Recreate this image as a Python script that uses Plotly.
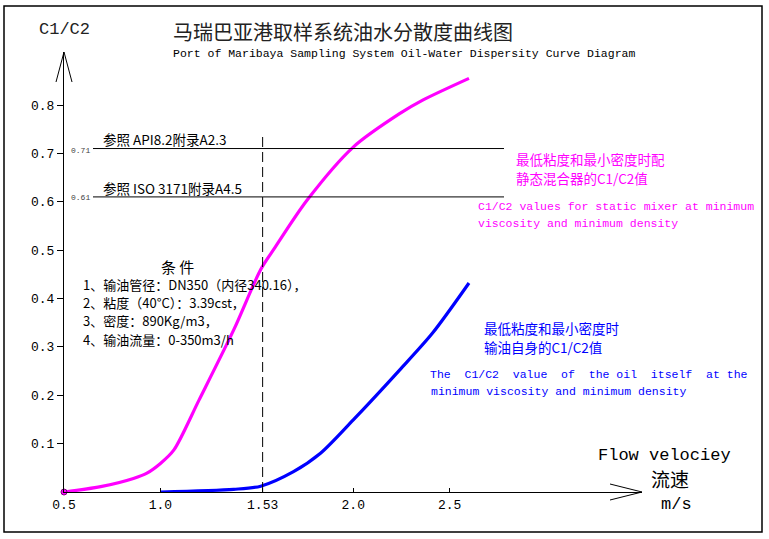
import plotly.graph_objects as go

# ---- data ----
mixer_v = [0.5, 0.69, 0.86, 0.93, 1.0, 1.07, 1.2, 1.38, 1.52, 1.59, 1.76, 2.0, 2.24, 2.36, 2.6]
mixer_c = [0.0, 0.011, 0.028, 0.039, 0.059, 0.087, 0.19, 0.335, 0.46, 0.503, 0.603, 0.713, 0.782, 0.81, 0.855]

oil_v = [1.0, 1.38, 1.52, 1.69, 1.83, 2.0, 2.24, 2.41, 2.6]
oil_c = [0.0, 0.0055, 0.012, 0.042, 0.08, 0.149, 0.252, 0.328, 0.432]

x_ticks = [0.5, 1.0, 1.53, 2.0, 2.5]
x_tick_text = ["0.5", "1.0", "1.53", "2.0", "2.5"]
y_ticks = [0.1, 0.2, 0.3, 0.4, 0.5, 0.6, 0.7, 0.8]
y_tick_text = ["0.1", "0.2", "0.3", "0.4", "0.5", "0.6", "0.7", "0.8"]

ref_velocity = 1.53
ref_levels = [0.71, 0.61]
ref_level_text = ["0.71", "0.61"]
ref_labels = ["参照 API8.2附录A2.3", "参照 ISO 3171附录A4.5"]

conditions = [
    "1、输油管径：DN350（内径340.16），",
    "2、粘度（40°C）：3.39cst，",
    "3、密度：890Kg/m3，",
    "4、输油流量：0-350m3/h",
]

# ---- page geometry (pixels) ----
W, H = 769, 539
L, R, T, B = 64, 127, 52, 47
PW, PH = W - L - R, H - T - B

MONO = "Liberation Mono, Noto Sans CJK SC"
CJK = "Noto Sans CJK SC, Liberation Mono"


def px(x, y):
    # pixel position -> paper coordinates
    return (x - L) / PW, (H - B - y) / PH


fig = go.Figure()

fig.add_trace(go.Scatter(
    x=mixer_v, y=mixer_c, mode="lines",
    line=dict(color="#FF00FF", width=3.2, shape="spline", smoothing=0.8),
    hoverinfo="skip", showlegend=False))
fig.add_trace(go.Scatter(
    x=mixer_v[:1], y=mixer_c[:1], mode="markers",
    marker=dict(color="#FF00FF", size=6, line=dict(color="#800080", width=1)),
    hoverinfo="skip", showlegend=False, cliponaxis=False))
fig.add_trace(go.Scatter(
    x=oil_v, y=oil_c, mode="lines",
    line=dict(color="#0000FF", width=3.2, shape="spline", smoothing=0.8),
    hoverinfo="skip", showlegend=False))

shapes = []
# outer border
bx0, by0 = px(4, 6)
bx1, by1 = px(762, 532)
shapes.append(dict(type="rect", xref="paper", yref="paper", x0=bx0, y0=by0, x1=bx1, y1=by1,
                   line=dict(color="black", width=1.5)))

# reference lines
lx0, _ = px(93, 0)
lx1, _ = px(504, 0)
for lv in ref_levels:
    shapes.append(dict(type="line", xref="paper", yref="y", x0=lx0, x1=lx1, y0=lv, y1=lv,
                       line=dict(color="black", width=1)))

_, dy1 = px(0, 133)
shapes.append(dict(type="line", xref="x", yref="paper", x0=ref_velocity, x1=ref_velocity,
                   y0=0, y1=dy1, line=dict(color="black", width=1, dash="10px,5px")))

# axis arrowheads (open V)
def vpath(pts):
    p = [px(*q) for q in pts]
    return "M {} {} L {} {} L {} {}".format(p[0][0], p[0][1], p[1][0], p[1][1], p[2][0], p[2][1])

shapes.append(dict(type="path", xref="paper", yref="paper",
                   path=vpath([(56, 82), (64, 52), (72, 82)]), line=dict(color="black", width=1)))
shapes.append(dict(type="path", xref="paper", yref="paper",
                   path=vpath([(610, 484), (642, 492), (610, 500)]), line=dict(color="black", width=1)))

annotations = []


def label(text, x, y, size, color="black", family=MONO):
    ax, ay = px(x, y)
    annotations.append(dict(text=text, x=ax, y=ay, xref="paper", yref="paper",
                            xanchor="left", yanchor="middle", showarrow=False,
                            font=dict(size=size, color=color, family=family)))


label("C1/C2", 37, 30, 17, "#222222")
label("马瑞巴亚港取样系统油水分散度曲线图", 171, 31, 20, "#222222", CJK)
label("Port of Maribaya Sampling System Oil-Water Dispersity Curve Diagram", 171, 53, 11.5)

for txt, ly in zip(ref_labels, [139, 188]):
    label(txt, 101, ly, 13.5, "black", CJK)
for txt, ly in zip(ref_level_text, [150, 197]):
    label(txt, 69, ly, 8, "#444444")

label("最低粘度和最小密度时配", 514, 159, 13.5, "#FF00FF", CJK)
label("静态混合器的C1/C2值", 514, 178, 13.5, "#FF00FF", CJK)
label("C1/C2 values for static mixer at minimum", 476, 206, 11.5, "#FF00FF")
label("viscosity and minimum density", 476, 223, 11.5, "#FF00FF")

label("最低粘度和最小密度时", 482, 328, 13.5, "#0000FF", CJK)
label("输油自身的C1/C2值", 482, 347, 13.5, "#0000FF", CJK)
s1, s2 = "\u00a0", "\u00a0\u00a0"
label("The" + s2 + "C1/C2" + s2 + "value" + s2 + "of" + s2 + "the" + s1 + "oil" + s2
      + "itself" + s2 + "at" + s1 + "the", 428, 374, 11.5, "#0000FF")
label("minimum viscosity and minimum density", 429, 391, 11.5, "#0000FF")

label("条 件", 159, 266, 15, "black", CJK)
for txt, ly in zip(conditions, [284, 302, 320, 339]):
    label(txt, 81, ly, 13, "black", CJK)

label("Flow velociey", 596, 455, 17)
label("流速", 649, 478, 19, "black", CJK)
label("m/s", 659, 504, 17)

x_max = 0.5 + PW / 192.85
y_max = PH / 483.75

fig.update_layout(
    width=W, height=H,
    margin=dict(l=L, r=R, t=T, b=B, pad=0),
    paper_bgcolor="white", plot_bgcolor="white",
    shapes=shapes, annotations=annotations,
    font=dict(family=MONO, color="black", size=12),
    xaxis=dict(range=[0.5, x_max], tickvals=x_ticks, ticktext=x_tick_text,
               showgrid=False, zeroline=False, showline=True, linecolor="black", linewidth=1,
               ticks="inside", ticklen=4, tickcolor="black",
               tickfont=dict(family=MONO, size=13, color="black")),
    yaxis=dict(range=[0, y_max], tickvals=y_ticks, ticktext=y_tick_text,
               showgrid=False, zeroline=False, showline=True, linecolor="black", linewidth=1,
               ticks="outside", ticklen=6, tickcolor="black",
               tickfont=dict(family=MONO, size=13, color="black")),
)

# page body has a default 8px margin; drop it so the figure sits at the window corner
fig.write_html("out.html", config={"displayModeBar": False},
               post_script="document.body.style.margin='0';")
